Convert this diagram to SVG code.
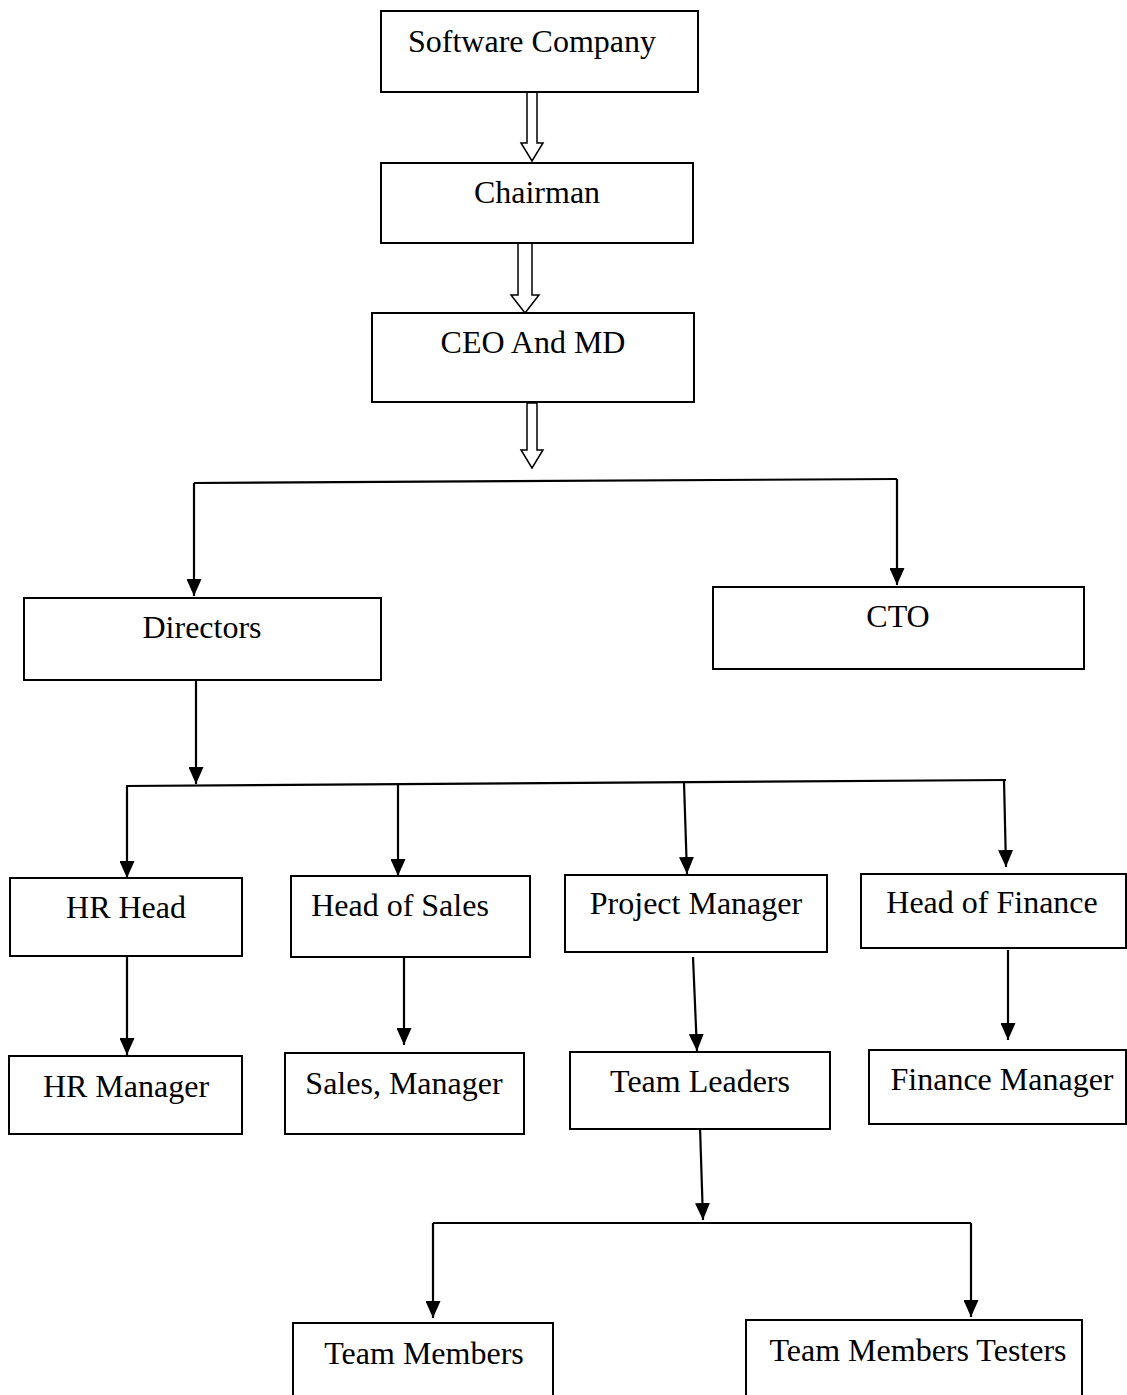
<svg xmlns="http://www.w3.org/2000/svg" width="1127" height="1395" viewBox="0 0 1127 1395">
<style>
.box{fill:#fff;stroke:#000;stroke-width:2}
.lbl{font-family:"Liberation Serif","Times New Roman",serif;font-size:32px;fill:#000;text-anchor:middle}
.ln{fill:none;stroke:#000;stroke-width:2.2}
.hollow{fill:#fff;stroke:#000;stroke-width:1.5}
</style>
<defs>
<marker id="ah" viewBox="0 0 17 15" refX="17" refY="7.5" markerWidth="17" markerHeight="15" markerUnits="userSpaceOnUse" orient="auto">
<path d="M0,0 L17,7.5 L0,15 z" fill="#000"/>
</marker>
</defs>
<rect width="1127" height="1395" fill="#fff"/>
<g id="connectors">
<polygon class="hollow" points="527,92 537,92 537,143 543,143 532,161 521,143 527,143"/>
<polygon class="hollow" points="518,243 532,243 532,295 539,295 525,313 511,295 518,295"/>
<polygon class="hollow" points="527,403 537,403 537,450 543,450 532,468 521,450 527,450"/>
<line class="ln" x1="194" y1="483" x2="897" y2="479"/>
<line class="ln" x1="194" y1="483" x2="194" y2="596" marker-end="url(#ah)"/>
<line class="ln" x1="897" y1="479" x2="897" y2="585" marker-end="url(#ah)"/>
<line class="ln" x1="196" y1="680" x2="196" y2="784" marker-end="url(#ah)"/>
<line class="ln" x1="126" y1="786" x2="1006" y2="780"/>
<line class="ln" x1="127" y1="786" x2="127" y2="878" marker-end="url(#ah)"/>
<line class="ln" x1="398" y1="784" x2="398" y2="876" marker-end="url(#ah)"/>
<line class="ln" x1="684" y1="783" x2="687" y2="874" marker-end="url(#ah)"/>
<line class="ln" x1="1004" y1="780" x2="1006" y2="867" marker-end="url(#ah)"/>
<line class="ln" x1="127" y1="956" x2="127" y2="1055" marker-end="url(#ah)"/>
<line class="ln" x1="404" y1="953" x2="404" y2="1045" marker-end="url(#ah)"/>
<line class="ln" x1="693" y1="957" x2="697" y2="1051" marker-end="url(#ah)"/>
<line class="ln" x1="1008" y1="950" x2="1008" y2="1040" marker-end="url(#ah)"/>
<line class="ln" x1="700" y1="1127" x2="703" y2="1220" marker-end="url(#ah)"/>
<line class="ln" x1="433" y1="1223" x2="971" y2="1223"/>
<line class="ln" x1="433" y1="1223" x2="433" y2="1318" marker-end="url(#ah)"/>
<line class="ln" x1="971" y1="1223" x2="971" y2="1317" marker-end="url(#ah)"/>
</g>
<g id="n-software"><rect class="box" x="381" y="11" width="317" height="81"/><text class="lbl" x="532" y="52">Software Company</text></g>
<g id="n-chairman"><rect class="box" x="381" y="163" width="312" height="80"/><text class="lbl" x="537" y="203">Chairman</text></g>
<g id="n-ceo"><rect class="box" x="372" y="313" width="322" height="89"/><text class="lbl" x="533" y="353">CEO And MD</text></g>
<g id="n-directors"><rect class="box" x="24" y="598" width="357" height="82"/><text class="lbl" x="202" y="638">Directors</text></g>
<g id="n-cto"><rect class="box" x="713" y="587" width="371" height="82"/><text class="lbl" x="898" y="627">CTO</text></g>
<g id="n-hrhead"><rect class="box" x="10" y="878" width="232" height="78"/><text class="lbl" x="126" y="918">HR Head</text></g>
<g id="n-headsales"><rect class="box" x="291" y="876" width="239" height="81"/><text class="lbl" x="400" y="916">Head of Sales</text></g>
<g id="n-pm"><rect class="box" x="565" y="875" width="262" height="77"/><text class="lbl" x="696" y="914">Project Manager</text></g>
<g id="n-headfinance"><rect class="box" x="861" y="874" width="265" height="74"/><text class="lbl" x="992" y="913">Head of Finance</text></g>
<g id="n-hrmanager"><rect class="box" x="9" y="1056" width="233" height="78"/><text class="lbl" x="126" y="1097">HR Manager</text></g>
<g id="n-salesmanager"><rect class="box" x="285" y="1053" width="239" height="81"/><text class="lbl" x="404" y="1094">Sales, Manager</text></g>
<g id="n-teamleaders"><rect class="box" x="570" y="1052" width="260" height="77"/><text class="lbl" x="700" y="1092">Team Leaders</text></g>
<g id="n-financemanager"><rect class="box" x="869" y="1050" width="257" height="74"/><text class="lbl" x="1002" y="1090">Finance Manager</text></g>
<g id="n-teammembers"><rect class="box" x="293" y="1323" width="260" height="90"/><text class="lbl" x="424" y="1364">Team Members</text></g>
<g id="n-testers"><rect class="box" x="746" y="1320" width="336" height="90"/><text class="lbl" x="918" y="1361">Team Members Testers</text></g>
</svg>
